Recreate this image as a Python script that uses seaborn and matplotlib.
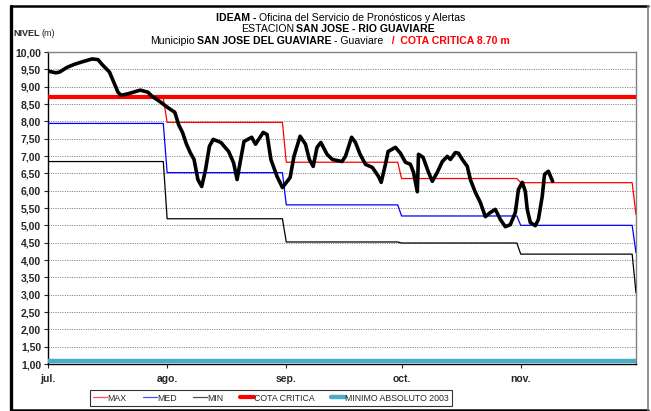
import numpy as np
import pandas as pd
import matplotlib
matplotlib.use("Agg")
import matplotlib.pyplot as plt
from matplotlib.ticker import FuncFormatter, MultipleLocator
from matplotlib.lines import Line2D
import seaborn as sns

# ---- data -------------------------------------------------------------
# observed river level (days counted from 1 July)
obs_day = [0, 2, 3, 5, 7, 9, 11.5, 13, 14, 16, 17, 18.2, 19, 21, 24, 26, 27, 29,
           31, 33, 34, 35, 36, 37, 38, 39, 40, 41, 42, 43, 45, 47, 48.3, 49.2, 50,
           51, 53, 54, 56, 57, 58, 59.6, 61, 63, 64, 65.6, 67, 68, 69, 70, 71, 72.6,
           74, 76.5, 77.4, 79, 80, 81.2, 82.6, 84.4, 86, 86.7, 87.8, 88.5, 90.4, 91.7,
           93, 94.3, 95.1, 96.1, 96.4, 97.6, 99, 100, 101.3, 102.6, 103.9, 104.7,
           106, 106.8, 107.8, 109.1, 109.9, 111.2, 112.5, 113.8, 115.1, 116.4, 117.7,
           119, 120.3, 121.6, 122.4, 123.4, 124.2, 124.7, 125.5, 126.8, 127.6, 128.6,
           129.2, 130.2, 131.3]
obs_level = [9.45, 9.40, 9.42, 9.56, 9.65, 9.72, 9.80, 9.78, 9.65, 9.42, 9.16, 8.84,
             8.75, 8.80, 8.90, 8.84, 8.73, 8.58, 8.41, 8.26, 7.90, 7.68, 7.35, 7.10,
             6.90, 6.32, 6.12, 6.61, 7.28, 7.48, 7.39, 7.13, 6.80, 6.32, 6.82, 7.42,
             7.54, 7.34, 7.68, 7.62, 6.90, 6.41, 6.09, 6.38, 6.99, 7.57, 7.34, 6.90,
             6.70, 7.25, 7.39, 7.05, 6.90, 6.84, 6.99, 7.54, 7.39, 7.05, 6.76, 6.67,
             6.41, 6.24, 6.76, 7.13, 7.25, 7.08, 6.82, 6.76, 6.53, 5.97, 7.05, 6.96,
             6.53, 6.27, 6.53, 6.84, 6.99, 6.90, 7.10, 7.08, 6.90, 6.70, 6.32, 5.95,
             5.66, 5.25, 5.37, 5.46, 5.17, 4.96, 5.02, 5.37, 6.03, 6.24, 5.98, 5.46,
             5.08, 4.99, 5.17, 5.83, 6.47, 6.56, 6.27]

# historical monthly statistics: jul, ago, sep, oct, nov, dic
month_start = [0, 31, 62, 92, 123, 153]
max_month = [8.67, 7.97, 6.82, 6.35, 6.23, 5.31]
med_month = [7.94, 6.52, 5.59, 5.27, 5.00, 4.21]
min_month = [6.84, 5.19, 4.52, 4.49, 4.17, 3.05]

cota_critica = 8.70
minimo_absoluto = 1.08

month_labels = ["jul.", "ago.", "sep.", "oct.", "nov."]


def monthly_steps(values):
    """Daily-style step line: each month holds its value from first to last day."""
    xs, ys = [], []
    for i, v in enumerate(values[:-1]):
        xs += [month_start[i], month_start[i + 1] - 1]
        ys += [v, v]
    xs.append(month_start[-1])
    ys.append(values[-1])
    return pd.DataFrame({"dia": xs, "nivel": ys})


obs = pd.DataFrame({"dia": obs_day, "nivel": obs_level})
span = [month_start[0], month_start[-1]]

# ---- style --------------------------------------------------------------
sns.set_style("white")
FAM = ["Liberation Sans Narrow", "Liberation Sans", "DejaVu Sans"]
plt.rcParams["font.family"] = FAM

W, H = 651, 411
fig = plt.figure(figsize=(W / 100, H / 100), dpi=100)
ax = fig.add_axes([48 / W, 1 - 364 / H, (636 - 48) / W, (364 - 52) / H])

RED = "#FF0000"
BLUE = "#0000FF"
TEAL = "#4BACC6"

sns.lineplot(data=pd.DataFrame({"dia": span, "nivel": [minimo_absoluto] * 2}),
             x="dia", y="nivel", color=TEAL, lw=3.2, ax=ax, zorder=3)
sns.lineplot(data=monthly_steps(min_month), x="dia", y="nivel", color="black",
             lw=0.9, ax=ax, zorder=4)
sns.lineplot(data=monthly_steps(med_month), x="dia", y="nivel", color=BLUE,
             lw=0.9, ax=ax, zorder=4)
sns.lineplot(data=monthly_steps(max_month), x="dia", y="nivel", color=RED,
             lw=0.9, ax=ax, zorder=4)
sns.lineplot(data=pd.DataFrame({"dia": span, "nivel": [cota_critica] * 2}),
             x="dia", y="nivel", color=RED, lw=3.0, ax=ax, zorder=5)
sns.lineplot(data=obs, x="dia", y="nivel", color="black", lw=2.6, ax=ax,
             zorder=6, sort=False)

# ---- axes ---------------------------------------------------------------
ax.set_xlim(span)
ax.set_ylim(1.0, 10.0)
ax.set_xlabel("")
ax.set_ylabel("")
ax.yaxis.set_major_locator(MultipleLocator(0.5))
ax.yaxis.set_major_formatter(FuncFormatter(lambda v, p: f"{v:.2f}".replace(".", ",")))
ax.set_xticks(month_start[:-1])
ax.set_xticklabels(month_labels)
ax.yaxis.grid(True, linestyle=(0, (1.2, 1.2)), color="#8c8c8c", lw=0.7)
ax.xaxis.grid(False)
ax.tick_params(axis="y", left=True, length=3, width=0.8, pad=2, labelsize=7.5)
ax.tick_params(axis="x", bottom=True, length=3, width=0.8, pad=4, labelsize=7.5)
for lab in ax.get_yticklabels() + ax.get_xticklabels():
    lab.set_fontweight("bold")
    lab.set_family(FAM)
for side in ["left", "bottom"]:
    ax.spines[side].set_color("black")
    ax.spines[side].set_linewidth(1.0)
for side in ["top", "right"]:
    ax.spines[side].set_color("#808080")
    ax.spines[side].set_linewidth(1.0)

# ---- legend -------------------------------------------------------------
handles = [
    Line2D([], [], color=RED, lw=0.9, alpha=0.7),
    Line2D([], [], color=BLUE, lw=0.9, alpha=0.7),
    Line2D([], [], color="black", lw=0.9, alpha=0.7),
    Line2D([], [], color=RED, lw=3.0),
    Line2D([], [], color=TEAL, lw=3.2),
]
labels = ["MAX", "MED", "MIN", "COTA CRITICA", "MINIMO ABSOLUTO 2003"]
leg = fig.legend(handles, labels, loc="center", bbox_to_anchor=(271 / W, 1 - 398 / H),
                 ncol=5, frameon=True, handlelength=1.6,
                 handletextpad=0.0, columnspacing=1.9, borderpad=0.35,
                 fancybox=False, prop={"family": FAM, "size": 6.3})
leg.get_frame().set_edgecolor("black")
leg.get_frame().set_linewidth(0.8)

# ---- titles -------------------------------------------------------------
renderer = fig.canvas.get_renderer()


def rich_line(pieces, y_px, xc_px, size=7.6, gap=2.5):
    texts = []
    for s, weight, color in pieces:
        t = fig.text(0, 1 - y_px / H, s, fontsize=size, fontweight=weight,
                     color=color, family=FAM, va="center", ha="left")
        texts.append(t)
    widths = [t.get_window_extent(renderer).width for t in texts]
    total = sum(widths) + gap * (len(texts) - 1)
    x = xc_px - total / 2
    for t, w in zip(texts, widths):
        t.set_x(x / W)
        x += w + gap


rich_line([("IDEAM -", "bold", "black"),
           ("Oficina del Servicio de Pronósticos y Alertas", "normal", "black")],
          18, 341)
rich_line([("ESTACION", "normal", "black"),
           ("SAN JOSE - RIO GUAVIARE", "bold", "black")], 29, 338)
rich_line([("Municipio", "normal", "black"),
           ("SAN JOSE DEL GUAVIARE", "bold", "black"),
           ("- Guaviare", "normal", "black"),
           ("  /  COTA CRITICA 8.70 m", "bold", RED)], 41, 330)

t1 = fig.text(13 / W, 1 - 33 / H, "NIVEL", fontsize=6.5, fontweight="bold",
              family=FAM, va="center", ha="left")
w1 = t1.get_window_extent(renderer).width
fig.text((13 + w1 + 2.5) / W, 1 - 33 / H, "(m)", fontsize=6.5, family=FAM,
         va="center", ha="left")

# ---- outer frame ---------------------------------------------------------
frame_kw = dict(transform=fig.transFigure, clip_on=False)
fig.add_artist(Line2D([11 / W, 11 / W], [1 - 6 / H, 1 - 410 / H], color="black", lw=2.4, **frame_kw))
fig.add_artist(Line2D([11 / W, 648 / W], [1 - 6 / H, 1 - 6 / H], color="black", lw=1.8, **frame_kw))
fig.add_artist(Line2D([11 / W, 648 / W], [1 - 409.5 / H, 1 - 409.5 / H], color="black", lw=1.8, **frame_kw))
fig.add_artist(Line2D([648 / W, 648 / W], [1 - 6 / H, 1 - 410 / H], color="#7f7f7f", lw=1.2, **frame_kw))

fig.savefig("out.png", dpi=100)
